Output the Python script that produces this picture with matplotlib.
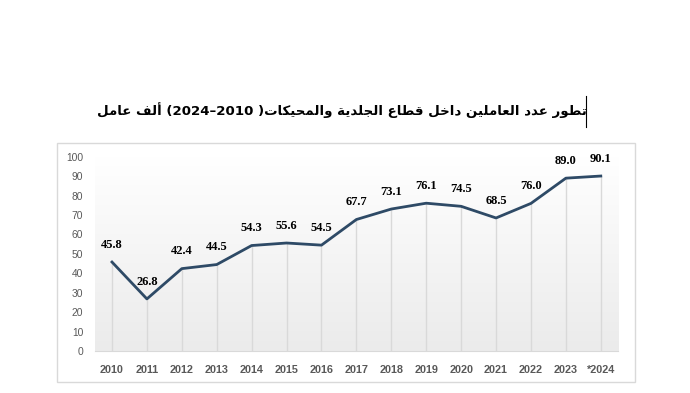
import matplotlib
matplotlib.use("Agg")
import matplotlib.pyplot as plt
import numpy as np
from matplotlib.patches import Rectangle
from matplotlib.colors import LinearSegmentedColormap

# البيانات
years = ["2010", "2011", "2012", "2013", "2014", "2015", "2016", "2017",
         "2018", "2019", "2020", "2021", "2022", "2023", "*2024"]
workers = [45.8, 26.8, 42.4, 44.5, 54.3, 55.6, 54.5, 67.7,
           73.1, 76.1, 74.5, 68.5, 76.0, 89.0, 90.1]
title = "تطور عدد العاملين داخل قطاع الجلدية والمحيكات( 2010–2024) ألف عامل"

# matplotlib لا يشكّل الحروف العربية ولا يعكس اتجاه النص،
# لذلك نستعمل أشكال العرض (Presentation Forms-B) ونرتب النص يدوياً
# (معزول، نهائي، ابتدائي، وسطي) ؛ None = الحرف لا يتصل بما بعده
forms = {
    "ا": ("\uFE8D", "\uFE8E", None, None),
    "أ": ("\uFE83", "\uFE84", None, None),
    "ة": ("\uFE93", "\uFE94", None, None),
    "ت": ("\uFE95", "\uFE96", "\uFE97", "\uFE98"),
    "ج": ("\uFE9D", "\uFE9E", "\uFE9F", "\uFEA0"),
    "ح": ("\uFEA1", "\uFEA2", "\uFEA3", "\uFEA4"),
    "خ": ("\uFEA5", "\uFEA6", "\uFEA7", "\uFEA8"),
    "د": ("\uFEA9", "\uFEAA", None, None),
    "ر": ("\uFEAD", "\uFEAE", None, None),
    "ط": ("\uFEC1", "\uFEC2", "\uFEC3", "\uFEC4"),
    "ع": ("\uFEC9", "\uFECA", "\uFECB", "\uFECC"),
    "ف": ("\uFED1", "\uFED2", "\uFED3", "\uFED4"),
    "ق": ("\uFED5", "\uFED6", "\uFED7", "\uFED8"),
    "ك": ("\uFED9", "\uFEDA", "\uFEDB", "\uFEDC"),
    "ل": ("\uFEDD", "\uFEDE", "\uFEDF", "\uFEE0"),
    "م": ("\uFEE1", "\uFEE2", "\uFEE3", "\uFEE4"),
    "ن": ("\uFEE5", "\uFEE6", "\uFEE7", "\uFEE8"),
    "و": ("\uFEED", "\uFEEE", None, None),
    "ي": ("\uFEF1", "\uFEF2", "\uFEF3", "\uFEF4"),
}
mirror = {"(": ")", ")": "("}


def rtl_visual(text):
    # تقسيم النص إلى وحدات: كل حرف وحده، والأرقام المتتالية وحدة واحدة
    units = []
    i = 0
    while i < len(text):
        c = text[i]
        if c.isdigit():
            j = i
            while j < len(text) and text[j].isdigit():
                j += 1
            units.append(text[i:j])
            i = j
            continue
        if c in forms:
            prev_joins = i > 0 and text[i - 1] in forms and forms[text[i - 1]][2] is not None
            next_joins = i + 1 < len(text) and text[i + 1] in forms and forms[c][2] is not None
            iso, fin, ini, med = forms[c]
            if prev_joins and next_joins:
                c = med
            elif prev_joins:
                c = fin
            elif next_joins:
                c = ini
            else:
                c = iso
        else:
            c = mirror.get(c, c)
        units.append(c)
        i += 1
    return "".join(reversed(units))


fig = plt.figure(figsize=(6.9, 3.93), dpi=100)

# إطار المخطط
fig.patches.append(Rectangle((0.083, 0.028), 0.837, 0.608, transform=fig.transFigure,
                             fill=False, edgecolor="#d9d9d9", linewidth=1))

fig.text(0.496, 0.72, rtl_visual(title), ha="center", va="center",
         fontsize=9.6, fontweight="bold", family=["DejaVu Sans"], color="black")
# مؤشر الكتابة الظاهر بجانب العنوان
fig.lines.append(plt.Line2D([0.849, 0.849], [0.677, 0.756], transform=fig.transFigure,
                            color="black", linewidth=0.8))

ax = fig.add_axes([0.137, 0.107, 0.759, 0.494])
x = np.arange(len(years))

# خلفية متدرجة
grad = np.linspace(0, 1, 256).reshape(-1, 1)
ax.imshow(grad, extent=[-0.5, len(years) - 0.5, 0, 100], aspect="auto",
          cmap=LinearSegmentedColormap.from_list("g", ["#ebebeb", "#ffffff"]),
          origin="lower", zorder=0)

ax.vlines(x, 0, workers, color="#d9d9d9", linewidth=1, zorder=1)
ax.plot(x, workers, color="#2e4a66", linewidth=2, zorder=3, solid_joinstyle="round")

for xi, v in zip(x, workers):
    ax.annotate(f"{v:.1f}", (xi, v), xytext=(0, 12.5), textcoords="offset points",
                ha="center", va="center", fontsize=9, fontweight="bold",
                family="Liberation Serif", color="black")

ax.set_xlim(-0.5, len(years) - 0.5)
ax.set_ylim(0, 100)
ax.set_yticks(range(0, 101, 10))
ax.set_xticks(x)
ax.set_xticklabels(years, fontweight="bold", family="Liberation Sans")
for lab in ax.get_yticklabels():
    lab.set_family("Liberation Sans")
ax.tick_params(axis="y", length=0, labelsize=7.4, labelcolor="#595959", pad=8)
ax.tick_params(axis="x", length=0, labelsize=7.8, labelcolor="#595959", pad=10)
for s in ["top", "right", "left"]:
    ax.spines[s].set_visible(False)
ax.spines["bottom"].set_color("#d9d9d9")

fig.savefig("out.png", dpi=100)
